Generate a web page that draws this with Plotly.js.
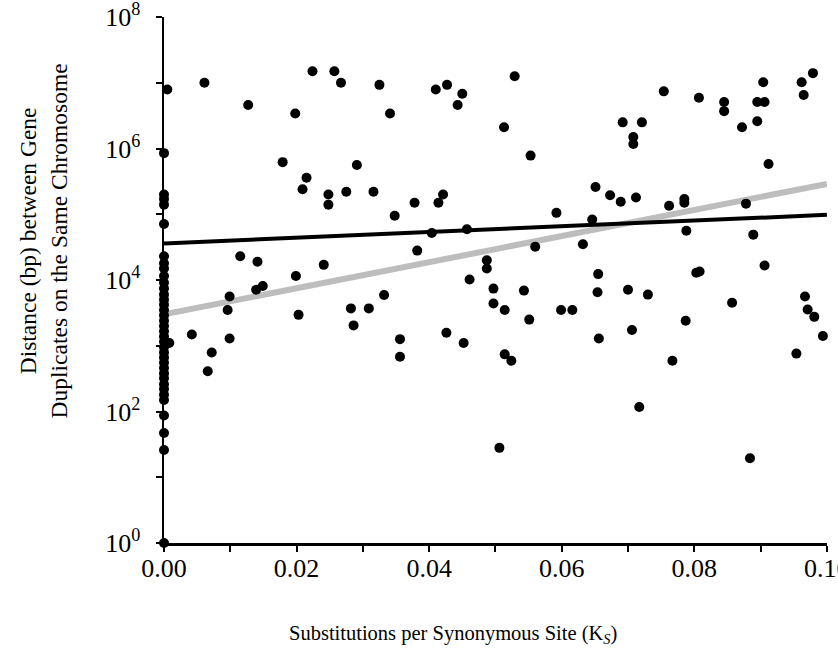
<!DOCTYPE html>
<html>
<head>
<meta charset="utf-8">
<script src="https://cdn.plot.ly/plotly-3.0.1.min.js"></script>
<style>html,body{margin:0;padding:0;background:#fff;}#chart{width:838px;height:652px;}</style>
</head>
<body>
<div id="chart"></div>
<script>
// Synonymous substitutions (Ks) of each duplicate pair
var ks = [
  0,0,0,0,0,0,0,0,0,0,0,0,0,0,0,0,0,0,0,0,0,0,0,0,0,0,0,0,0,0,0,0,0,0,0,0,
  0.0005,0.0008,
  0.0061,0.0127,0.0198,0.0224,0.0257,0.0267,0.0325,0.0179,0.0291,0.0215,0.0209,0.0248,0.0248,0.0275,0.0316,
  0.0115,0.0141,0.0241,0.0199,
  0.0341,0.0410,0.0427,0.0450,0.0443,0.0529,0.0513,0.0553,0.0378,0.0348,0.0421,0.0414,0.0592,0.0651,0.0646,
  0.0404,0.0457,0.0382,0.0560,0.0632,0.0487,0.0487,0.0461,0.0655,
  0.0754,0.0807,0.0845,0.0845,0.0895,0.0906,0.0904,0.0962,0.0979,0.0965,0.0872,0.0895,0.0692,0.0721,0.0708,0.0708,
  0.0912,0.0673,0.0689,0.0712,0.0762,0.0785,0.0785,0.0878,0.0788,0.0889,0.0906,0.0803,0.0808,
  0.0139,0.0149,0.0099,0.0096,0.0203,0.0042,0.0099,0.0072,0.0066,0.0282,0.0309,0.0286,
  0.0332,0.0356,0.0356,0.0426,0.0452,0.0497,0.0497,0.0514,0.0543,0.0551,0.0514,0.0524,0.0506,0.0599,0.0616,
  0.0654,0.0656,0.0700,0.0730,0.0706,0.0717,0.0767,0.0787,0.0857,0.0884,0.0967,0.0971,0.0981,0.0994,0.0954
];
// Distance (bp) between the two duplicates
var distance = [
  850000,200000,170000,140000,71000,23000,18000,15000,11500,9100,7400,6000,5000,4200,3500,2900,2400,2000,
  1660,1380,1150,950,790,660,550,460,380,320,260,220,180,150,87,47,26,1,
  7900000,1100,
  10000000,4600000,3400000,15000000,15000000,10000000,9300000,620000,560000,360000,240000,200000,140000,220000,220000,
  23000,19000,17000,11500,
  3400000,7900000,9300000,6800000,4600000,12600000,2100000,780000,150000,95000,200000,150000,105000,260000,83000,
  52000,59000,28000,32000,35000,20000,15000,10200,12300,
  7400000,5900000,5100000,3700000,5100000,5100000,10200000,10200000,14000000,6500000,2100000,2600000,2500000,2500000,1500000,1170000,
  580000,195000,155000,180000,135000,170000,150000,145000,56000,49000,16600,12900,13500,
  7100,8100,5600,3500,2950,1480,1290,790,410,3700,3700,2040,
  5900,1260,680,1580,1100,7400,4400,3500,6900,2500,740,590,28,3500,3500,
  6500,1290,7100,6000,1740,117,590,2400,4500,19.5,5600,3550,2750,1410,760
];
// Fitted lines (end points)
var fitX = [0, 0.1];
var fitBlack = [36000, 98000];
var fitGray = [3000, 290000];

var xTickVals = [0,0.01,0.02,0.03,0.04,0.05,0.06,0.07,0.08,0.09,0.10];
var xTickText = ["0.00","","0.02","","0.04","","0.06","","0.08","","0.10"];
var yTickVals = [1,10,100,1000,10000,100000,1000000,10000000,100000000];
var yTickText = ["10<sup>0</sup>","","10<sup>2</sup>","","10<sup>4</sup>","","10<sup>6</sup>","","10<sup>8</sup>"];

var serif = "Liberation Serif, Times New Roman, serif";

var traces = [
  {x: fitX, y: fitGray, type: "scatter", mode: "lines", line: {color: "#bdbdbd", width: 6}, hoverinfo: "skip", cliponaxis: false},
  {x: fitX, y: fitBlack, type: "scatter", mode: "lines", line: {color: "#000", width: 4}, hoverinfo: "skip", cliponaxis: false},
  {x: ks, y: distance, type: "scatter", mode: "markers", marker: {color: "#000", size: 10}, cliponaxis: false}
];

var layout = {
  width: 838, height: 652,
  margin: {l: 164, r: 11, t: 17, b: 109},
  paper_bgcolor: "#fff", plot_bgcolor: "#fff",
  showlegend: false,
  font: {family: serif, color: "#000", size: 26},
  xaxis: {
    range: [0, 0.10002], tickvals: xTickVals, ticktext: xTickText,
    ticks: "outside", ticklen: 6, tickwidth: 2, tickcolor: "#000",
    showline: true, linecolor: "#000", linewidth: 2.5, showgrid: false, zeroline: false,
    tickfont: {family: serif, size: 26, color: "#000"}, ticklabeloverflow: "allow", ticklabelstandoff: -6
  },
  yaxis: {
    type: "log", range: [0, 8.0003], tickvals: yTickVals, ticktext: yTickText,
    ticks: "outside", ticklen: 6, tickwidth: 2, tickcolor: "#000",
    showline: true, linecolor: "#000", linewidth: 2.5, showgrid: false, zeroline: false,
    tickfont: {family: serif, size: 26, color: "#000"}, ticklabeloverflow: "allow", ticklabelstandoff: 10
  },
  annotations: [
    {text: "Substitutions per Synonymous Site (K<sub><i>S</i></sub>)", xref: "paper", yref: "paper",
     x: 0.436, y: -0.174, xanchor: "center", yanchor: "middle", showarrow: false,
     font: {family: serif, size: 20.5}},
    {text: "Distance (bp) between Gene<br>Duplicates on the Same Chromosome", xref: "paper", yref: "paper",
     x: -0.182, y: 0.574, xanchor: "center", yanchor: "middle", showarrow: false, textangle: -90,
     font: {family: serif, size: 23.5}}
  ]
};

Plotly.newPlot("chart", traces, layout, {displayModeBar: false, staticPlot: true});
</script>
</body>
</html>
